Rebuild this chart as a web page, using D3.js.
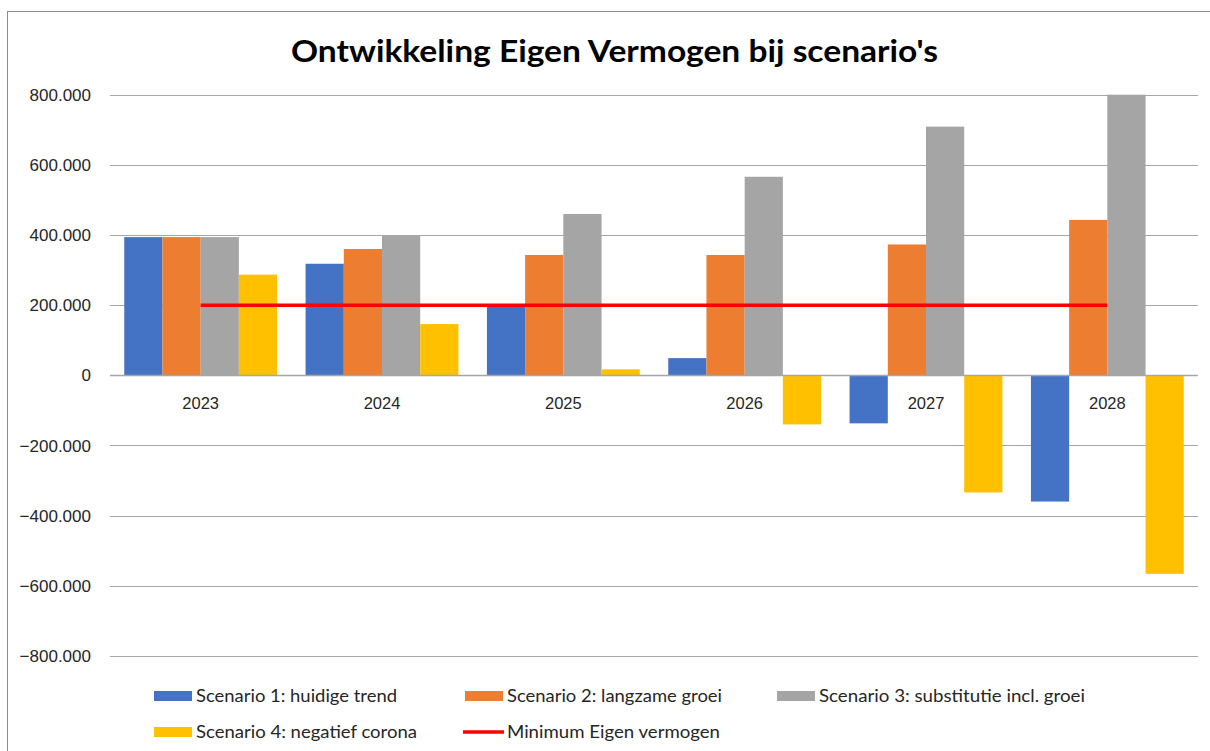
<!DOCTYPE html>
<html>
<head>
<meta charset="utf-8">
<script src="https://cdn.jsdelivr.net/npm/d3@7"></script>
<style>
  body { margin: 0; background: #fff; }
  svg { display: block; }
</style>
</head>
<body>
<svg width="1210" height="751"></svg>
<script>
const years = ["2023", "2024", "2025", "2026", "2027", "2028"];
const seriesNames = [
    "Scenario 1: huidige trend",
    "Scenario 2: langzame groei",
    "Scenario 3: substitutie incl. groei",
    "Scenario 4: negatief corona"
];
const scenario1 = [394000, 318000, 198000, 49000, -137000, -360000];
const scenario2 = [394000, 360000, 343000, 343000, 373000, 443000];
const scenario3 = [394000, 397000, 460000, 566000, 709000, 800000];
const scenario4 = [287000, 146000, 17000, -140000, -334000, -566000];
const minimumName = "Minimum Eigen vermogen";
const minimum = [200000, 200000, 200000, 200000, 200000, 200000];
const yTicks = [-800000, -600000, -400000, -200000, 0, 200000, 400000, 600000, 800000];

const colors = ["#4472C4", "#ED7D31", "#A5A5A5", "#FFC000"];
const allSeries = [scenario1, scenario2, scenario3, scenario4];

const svg = d3.select("svg");

// chart frame
svg.append("rect")
    .attr("x", 7.5).attr("y", 11.5)
    .attr("width", 1220).attr("height", 760)
    .attr("fill", "none").attr("stroke", "#8c8c8c");

svg.append("text")
    .attr("x", 614.5).attr("y", 62)
    .attr("text-anchor", "middle")
    .attr("font-family", "Lato, 'Open Sans', sans-serif")
    .attr("font-weight", 700)
    .attr("font-size", 31)
    .attr("textLength", 647)
    .attr("lengthAdjust", "spacingAndGlyphs")
    .attr("fill", "#000")
    .text("Ontwikkeling Eigen Vermogen bij scenario's");

const x0 = d3.scaleBand().domain(years).range([110, 1198]);
const x1 = d3.scaleBand().domain(d3.range(4)).range([0, x0.bandwidth()]).paddingOuter(0.373);
const y = d3.scaleLinear().domain([-800000, 800000]).range([655.9, 94.7]);

const fmt = v => d3.format(",")(v).replace(/,/g, ".");

// gridlines
svg.append("g").selectAll("line")
    .data(yTicks.filter(d => d !== 0))
    .enter().append("line")
    .attr("x1", 110).attr("x2", 1198)
    .attr("y1", d => Math.round(y(d)) + 0.5)
    .attr("y2", d => Math.round(y(d)) + 0.5)
    .attr("stroke", "#a6a6a6").attr("stroke-width", 1);

// y labels
svg.append("g").selectAll("text")
    .data(yTicks)
    .enter().append("text")
    .attr("x", 91)
    .attr("y", d => y(d))
    .attr("dy", "0.36em")
    .attr("text-anchor", "end")
    .attr("font-family", "'Liberation Sans', Arial, sans-serif")
    .attr("font-size", 17)
    .attr("fill", "#262626")
    .text(d => d === 0 ? "0" : fmt(d));

// bars
const groups = svg.append("g").selectAll("g")
    .data(years)
    .enter().append("g")
    .attr("transform", d => `translate(${x0(d)},0)`);

groups.selectAll("rect")
    .data((d, i) => allSeries.map((s, k) => ({ k: k, v: s[i] })))
    .enter().append("rect")
    .attr("x", d => x1(d.k))
    .attr("width", x1.bandwidth())
    .attr("y", d => y(Math.max(0, d.v)))
    .attr("height", d => Math.abs(y(d.v) - y(0)))
    .attr("fill", d => colors[d.k]);

// zero axis
svg.append("line")
    .attr("x1", 110).attr("x2", 1198)
    .attr("y1", Math.round(y(0)) + 0.5).attr("y2", Math.round(y(0)) + 0.5)
    .attr("stroke", "#a6a6a6").attr("stroke-width", 1.3);

// category labels next to the axis
svg.append("g").selectAll("text")
    .data(years)
    .enter().append("text")
    .attr("x", d => x0(d) + x0.bandwidth() / 2)
    .attr("y", 408.5)
    .attr("text-anchor", "middle")
    .attr("font-family", "'Liberation Sans', Arial, sans-serif")
    .attr("font-size", 16.5)
    .attr("fill", "#262626")
    .text(d => d);

// minimum line
const line = d3.line()
    .x((d, i) => x0(years[i]) + x0.bandwidth() / 2)
    .y(d => y(d));

svg.append("path")
    .datum(minimum)
    .attr("d", line)
    .attr("fill", "none")
    .attr("stroke", "#FF0000")
    .attr("stroke-width", 3.5);

// legend
const legendItems = [
    { name: seriesNames[0], color: colors[0], x: 154, y: 696, w: 201, type: "rect" },
    { name: seriesNames[1], color: colors[1], x: 465, y: 696, w: 215, type: "rect" },
    { name: seriesNames[2], color: colors[2], x: 777, y: 696, w: 266, type: "rect" },
    { name: seriesNames[3], color: colors[3], x: 154, y: 732, w: 221, type: "rect" },
    { name: minimumName, color: "#FF0000", x: 465, y: 732, w: 213, type: "line" }
];

const legend = svg.append("g").selectAll("g")
    .data(legendItems)
    .enter().append("g")
    .attr("transform", d => `translate(${d.x},${d.y})`);

legend.filter(d => d.type === "rect").append("rect")
    .attr("x", 0).attr("y", -5)
    .attr("width", 38).attr("height", 10)
    .attr("fill", d => d.color);

legend.filter(d => d.type === "line").append("line")
    .attr("x1", -2).attr("x2", 39)
    .attr("y1", 0).attr("y2", 0)
    .attr("stroke", d => d.color)
    .attr("stroke-width", 3.5);

legend.append("text")
    .attr("x", 42)
    .attr("y", 6)
    .attr("font-family", "Lato, 'Open Sans', sans-serif")
    .attr("font-size", 17)
    .attr("textLength", d => d.w)
    .attr("lengthAdjust", "spacingAndGlyphs")
    .attr("fill", "#262626")
    .text(d => d.name);
</script>
</body>
</html>
